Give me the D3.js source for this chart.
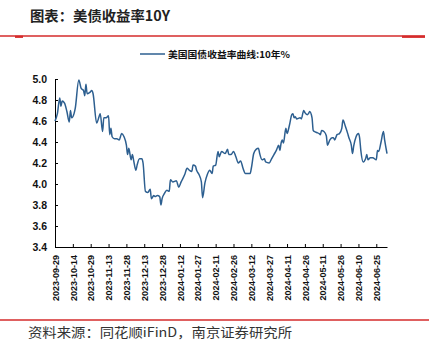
<!DOCTYPE html>
<html><head><meta charset="utf-8">
<script src="https://cdn.jsdelivr.net/npm/d3@7"></script>
<style>body{margin:0;background:#fff}svg{display:block}</style>
</head><body>
<svg id="c" width="429" height="344"></svg>
<script>
const titleText = "图表：美债收益率10Y";
const legendLabel = "美国国债收益率曲线:10年%";
const sourceText = "资料来源：同花顺iFinD，南京证券研究所";
const yTicks = [3.4, 3.6, 3.8, 4.0, 4.2, 4.4, 4.6, 4.8, 5.0];
const xTickLabels = ["2023-09-29","2023-10-14","2023-10-29","2023-11-13","2023-11-28","2023-12-13","2023-12-28","2024-01-12","2024-01-27","2024-02-11","2024-02-26","2024-03-12","2024-03-27","2024-04-11","2024-04-26","2024-05-11","2024-05-26","2024-06-10","2024-06-25"];
const dates = ["2023-09-29","2023-10-01","2023-10-03","2023-10-04","2023-10-05","2023-10-07","2023-10-09","2023-10-11","2023-10-12","2023-10-13","2023-10-15","2023-10-16","2023-10-19","2023-10-21","2023-10-23","2023-10-24","2023-10-25","2023-10-26","2023-10-28","2023-10-30","2023-10-31","2023-11-03","2023-11-05","2023-11-06","2023-11-08","2023-11-09","2023-11-11","2023-11-13","2023-11-14","2023-11-15","2023-11-16","2023-11-18","2023-11-20","2023-11-22","2023-11-24","2023-11-26","2023-11-28","2023-11-29","2023-11-30","2023-12-02","2023-12-03","2023-12-04","2023-12-06","2023-12-07","2023-12-09","2023-12-11","2023-12-12","2023-12-14","2023-12-16","2023-12-18","2023-12-19","2023-12-21","2023-12-22","2023-12-24","2023-12-26","2023-12-27","2023-12-28","2023-12-30","2024-01-01","2024-01-03","2024-01-04","2024-01-06","2024-01-09","2024-01-11","2024-01-13","2024-01-16","2024-01-18","2024-01-20","2024-01-22","2024-01-23","2024-01-25","2024-01-26","2024-01-28","2024-01-30","2024-01-31","2024-02-02","2024-02-04","2024-02-06","2024-02-08","2024-02-09","2024-02-11","2024-02-13","2024-02-14","2024-02-16","2024-02-19","2024-02-21","2024-02-22","2024-02-24","2024-02-26","2024-02-28","2024-03-01","2024-03-03","2024-03-05","2024-03-07","2024-03-09","2024-03-11","2024-03-12","2024-03-14","2024-03-16","2024-03-18","2024-03-19","2024-03-21","2024-03-23","2024-03-24","2024-03-27","2024-03-29","2024-03-31","2024-04-02","2024-04-04","2024-04-05","2024-04-06","2024-04-07","2024-04-08","2024-04-10","2024-04-11","2024-04-13","2024-04-15","2024-04-16","2024-04-17","2024-04-18","2024-04-19","2024-04-22","2024-04-23","2024-04-25","2024-04-26","2024-04-28","2024-04-29","2024-04-30","2024-05-02","2024-05-03","2024-05-04","2024-05-06","2024-05-08","2024-05-09","2024-05-10","2024-05-12","2024-05-14","2024-05-15","2024-05-17","2024-05-19","2024-05-20","2024-05-21","2024-05-23","2024-05-25","2024-05-27","2024-05-28","2024-05-30","2024-06-01","2024-06-02","2024-06-04","2024-06-05","2024-06-06","2024-06-08","2024-06-10","2024-06-11","2024-06-12","2024-06-14","2024-06-16","2024-06-17","2024-06-18","2024-06-20","2024-06-22","2024-06-25","2024-06-26","2024-06-27","2024-06-29","2024-07-01","2024-07-02","2024-07-04"];
const yields = [4.60,4.67,4.82,4.74,4.79,4.77,4.69,4.59,4.70,4.63,4.67,4.72,4.99,4.91,4.89,4.84,4.95,4.86,4.87,4.89,4.86,4.58,4.64,4.67,4.50,4.63,4.63,4.65,4.47,4.53,4.45,4.43,4.43,4.42,4.48,4.45,4.37,4.28,4.34,4.23,4.28,4.23,4.13,4.18,4.24,4.24,4.20,3.93,3.92,3.95,3.86,3.89,3.88,3.89,3.88,3.80,3.86,3.91,3.94,3.93,4.04,4.02,4.03,3.97,4.02,4.09,4.15,4.13,4.12,4.18,4.17,4.13,4.09,4.02,3.87,4.01,4.09,4.13,4.10,4.17,4.18,4.31,4.26,4.31,4.29,4.33,4.28,4.28,4.31,4.26,4.20,4.22,4.15,4.10,4.10,4.10,4.15,4.29,4.33,4.34,4.29,4.23,4.24,4.21,4.20,4.24,4.28,4.32,4.37,4.32,4.39,4.42,4.39,4.53,4.48,4.56,4.66,4.67,4.63,4.64,4.62,4.63,4.62,4.70,4.68,4.66,4.67,4.69,4.63,4.51,4.50,4.49,4.48,4.47,4.51,4.50,4.46,4.37,4.42,4.44,4.44,4.42,4.47,4.48,4.53,4.61,4.55,4.48,4.44,4.37,4.29,4.36,4.45,4.48,4.44,4.32,4.21,4.24,4.28,4.23,4.25,4.25,4.23,4.32,4.31,4.40,4.50,4.42,4.29];
const xStart = "2023-09-29", xEnd = "2024-07-04";

const parse = d3.utcParse("%Y-%m-%d");
const svg = d3.select("#c");
const red = "#d52b2b", blue = "#2d5f90";
const serif = "'Liberation Serif','Noto Sans CJK SC',serif";
const sans = "'Liberation Sans',Arial,sans-serif";

// header / footer rules
svg.append("line").attr("x1",0).attr("x2",425).attr("y1",36).attr("y2",36).attr("stroke",red).attr("stroke-width",1.3);
svg.append("line").attr("x1",15).attr("x2",23).attr("y1",36.8).attr("y2",36.8).attr("stroke",red).attr("stroke-width",2.2);
svg.append("line").attr("x1",402).attr("x2",425).attr("y1",36.8).attr("y2",36.8).attr("stroke",red).attr("stroke-width",2.2);
svg.append("line").attr("x1",0).attr("x2",429).attr("y1",320).attr("y2",320).attr("stroke",red).attr("stroke-width",1.3);

svg.append("text").attr("x",30).attr("y",21).attr("font-family","'Noto Sans CJK SC',sans-serif").attr("font-weight","bold")
  .attr("font-size",14).attr("fill","#222").attr("textLength",140).attr("lengthAdjust","spacingAndGlyphs").text(titleText);
svg.append("text").attr("x",28).attr("y",337).attr("font-family","'Noto Sans CJK SC',sans-serif")
  .attr("font-size",13).attr("fill","#333").attr("textLength",264).attr("lengthAdjust","spacingAndGlyphs").text(sourceText);

// legend
svg.append("line").attr("x1",140).attr("x2",165).attr("y1",54).attr("y2",54).attr("stroke",blue).attr("stroke-width",1.5);
svg.append("text").attr("x",168).attr("y",57.5).attr("font-family","'Noto Sans CJK SC',sans-serif").attr("font-weight","bold")
  .attr("font-size",9.5).attr("fill","#111").attr("textLength",122).attr("lengthAdjust","spacingAndGlyphs").text(legendLabel);

const x = d3.scaleUtc().domain([parse(xStart), parse(xEnd)]).range([55, 387]);
const y = d3.scaleLinear().domain([3.4, 5.0]).range([247, 79]);

const yAxis = svg.append("g").attr("transform","translate(55,0)")
  .call(d3.axisLeft(y).tickValues(yTicks).tickFormat(d3.format(".1f")).tickSizeInner(-3).tickSizeOuter(0).tickPadding(8));
yAxis.select(".domain").attr("stroke","#000");
yAxis.selectAll("text").attr("font-family",sans).attr("font-weight","bold").attr("font-size",10.5).attr("fill","#111");

const xAxis = svg.append("g").attr("transform","translate(0,247)")
  .call(d3.axisBottom(x).tickValues(xTickLabels.map(parse)).tickFormat(d3.utcFormat("%Y-%m-%d")).tickSizeInner(-3).tickSizeOuter(0));
xAxis.select(".domain").attr("stroke","#000");
xAxis.selectAll(".tick text").attr("font-family",sans).attr("font-weight","bold").attr("font-size",9).attr("fill","#111")
  .attr("text-anchor","end").attr("transform","rotate(-90)").attr("x",-8).attr("y",0).attr("dy","0.35em");

const data = dates.map((d,i)=>({d:parse(d), v:yields[i]}));
svg.append("path").datum(data).attr("fill","none").attr("stroke",blue).attr("stroke-width",1.5)
  .attr("stroke-linejoin","round").attr("d", d3.line().x(p=>x(p.d)).y(p=>y(p.v)).curve(d3.curveMonotoneX));
</script>
</body></html>
